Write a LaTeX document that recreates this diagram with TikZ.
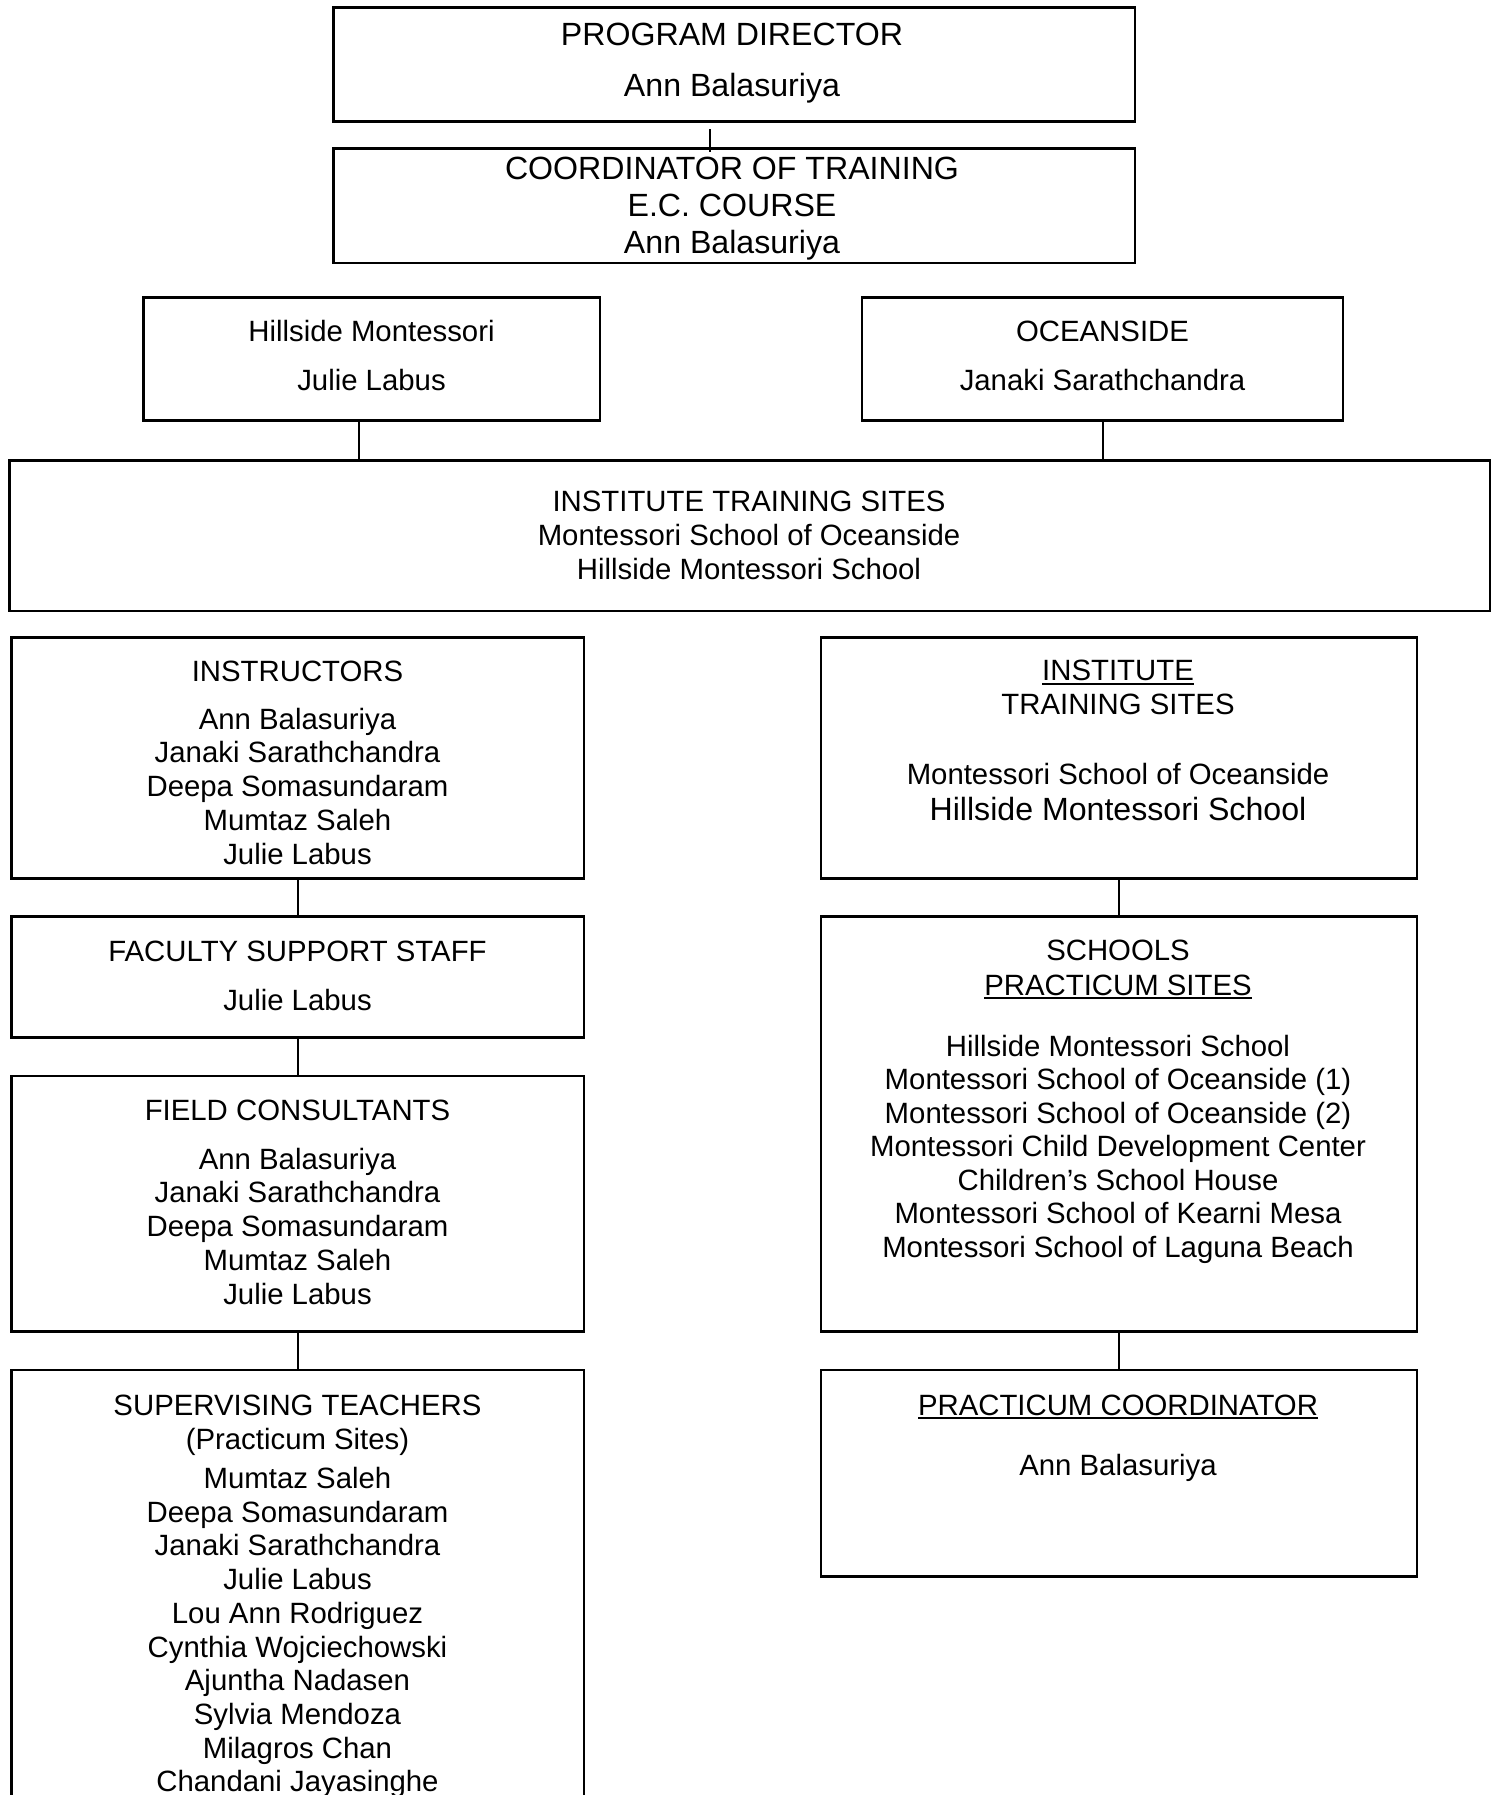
\documentclass[tikz,border=0pt]{standalone}
\usepackage{fontspec}
\setmainfont{Liberation Sans}
\usetikzlibrary{fit}
\newcommand\myul[1]{\setbox0\hbox{#1}\rlap{\rule[-1.6pt]{\wd0}{0.75pt}}\box0}
\begin{document}
\begin{tikzpicture}[x=0.414pt,y=-0.414pt,
  box/.style={draw, line width=1.1pt, rectangle, inner sep=0pt},
  conn/.style={line width=0.9pt},
  thinconn/.style={line width=0.45pt},
  txt/.style={anchor=base, inner sep=0pt, font=\fontsize{12.15}{14}\selectfont},
  bigtxt/.style={anchor=base, inner sep=0pt, font=\fontsize{13.3}{15.3}\selectfont}]
\useasboundingbox (0,0) rectangle (1497,1795);
\clip (0,0) rectangle (1497,1795);

% boxes
\node[box, fit={(333.5,7.5) (1135,121.7)}] (pd) {};
\node[box, fit={(333.5,148.7) (1135,263)}] (ct) {};
\node[box, fit={(143.5,297.5) (600,420.8)}] (hill) {};
\node[box, fit={(862,297.5) (1343,420.8)}] (ocean) {};
\node[box, fit={(9.5,460.7) (1490,611)}] (inst) {};
\node[box, fit={(11.5,637.3) (584,878.3)}] (instr) {};
\node[box, fit={(11.5,916.7) (584,1037.3)}] (fac) {};
\node[box, fit={(11.5,1076) (584,1331.7)}] (field) {};
\node[box, fit={(11.5,1370) (584,1840)}] (sup) {};
\node[box, fit={(821,637.3) (1417,878.3)}] (its) {};
\node[box, fit={(821,916.7) (1417,1331.7)}] (sch) {};
\node[box, fit={(821,1370) (1417,1576.7)}] (pc) {};

% connectors
\coordinate (pdc) at (710,129);
\coordinate (ctc) at (710,152);
\draw[thinconn] (pdc) -- (ctc);
\coordinate (hx) at (359,0);
\coordinate (ox) at (1103,0);
\draw[conn] (hill.south -| hx) -- (inst.north -| hx);
\draw[conn] (ocean.south -| ox) -- (inst.north -| ox);
\draw[conn] (instr.south) -- (fac.north);
\draw[conn] (fac.south) -- (field.north);
\draw[conn] (field.south) -- (sup.north);
\draw[conn] (its.south) -- (sch.north);
\draw[conn] (sch.south) -- (pc.north);

% texts: top
\node[bigtxt] (pd1) at (732,45) {PROGRAM DIRECTOR};
\node[bigtxt] (pd2) at (732,96.7) {Ann Balasuriya};
\node[bigtxt] (ct1) at (732,179.3) {COORDINATOR OF TRAINING};
\node[bigtxt] (ct2) at (732,216) {E.C. COURSE};
\node[bigtxt] (ct3) at (732,253.3) {Ann Balasuriya};
\node[txt] (hill1) at (371.5,341.7) {Hillside Montessori};
\node[txt] (hill2) at (371.5,390) {Julie Labus};
\node[txt] (oc1) at (1102.5,341.7) {OCEANSIDE};
\node[txt] (oc2) at (1102.5,390) {Janaki Sarathchandra};
\node[txt] (in1) at (749,511.7) {INSTITUTE TRAINING SITES};
\node[txt] (in2) at (749,545.7) {Montessori School of Oceanside};
\node[txt] (in3) at (749,579.3) {Hillside Montessori School};

% left column
\node[txt] (ins0) at (297.5,681) {INSTRUCTORS};
\foreach \t [count=\i] in {Ann Balasuriya, Janaki Sarathchandra, Deepa Somasundaram, Mumtaz Saleh, Julie Labus}
  \node[txt] (ins\i) at (297.5,{729+33.75*(\i-1)}) {\t};
\node[txt] (fac1) at (297.5,961) {FACULTY SUPPORT STAFF};
\node[txt] (fac2) at (297.5,1010) {Julie Labus};
\node[txt] (fc0) at (297.5,1120) {FIELD CONSULTANTS};
\foreach \t [count=\i] in {Ann Balasuriya, Janaki Sarathchandra, Deepa Somasundaram, Mumtaz Saleh, Julie Labus}
  \node[txt] (fc\i) at (297.5,{1169+33.75*(\i-1)}) {\t};
\node[txt] (sup0) at (297.5,1415) {SUPERVISING TEACHERS};
\node[txt] (supp) at (297.5,1449) {(Practicum Sites)};
\foreach \t [count=\i] in {Mumtaz Saleh, Deepa Somasundaram, Janaki Sarathchandra, Julie Labus, Lou Ann Rodriguez, Cynthia Wojciechowski, Ajuntha Nadasen, Sylvia Mendoza, Milagros Chan, Chandani Jayasinghe}
  \node[txt] (sup\i) at (297.5,{1488.5+33.7*(\i-1)}) {\t};

% right column
\node[txt] (its1) at (1118,680.7) {\myul{INSTITUTE}};
\node[txt] (its2) at (1118,714) {TRAINING SITES};
\node[txt] (its3) at (1118,784) {Montessori School of Oceanside};
\node[bigtxt] (its4) at (1118,820.7) {Hillside Montessori School};
\node[txt] (sch1) at (1118,960.7) {SCHOOLS};
\node[txt] (sch2) at (1118,995) {\myul{PRACTICUM SITES}};
\foreach \t [count=\i] in {Hillside Montessori School, Montessori School of Oceanside (1), Montessori School of Oceanside (2), Montessori Child Development Center, Children’s School House, Montessori School of Kearni Mesa, Montessori School of Laguna Beach}
  \node[txt] (sc\i) at (1118,{1056+33.55*(\i-1)}) {\t};
\node[txt] (pc1) at (1118,1415) {\myul{PRACTICUM COORDINATOR}};
\node[txt] (pc2) at (1118,1475) {Ann Balasuriya};
\end{tikzpicture}
\end{document}
